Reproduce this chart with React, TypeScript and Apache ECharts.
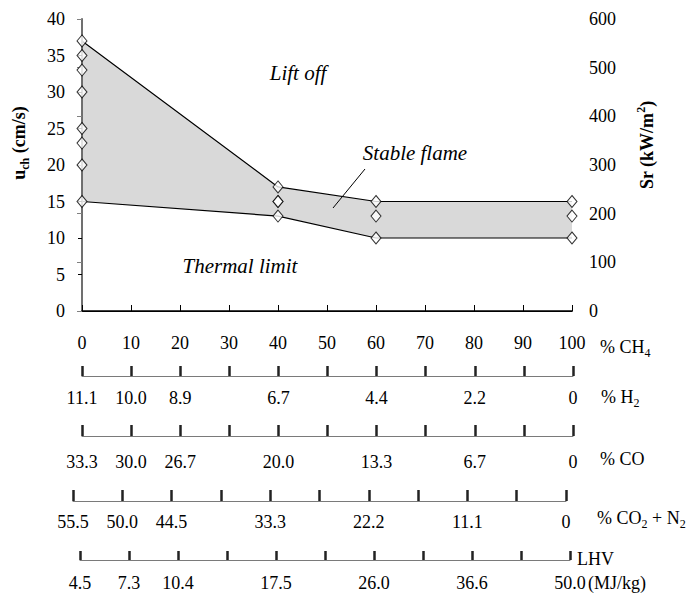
import React, { useEffect, useRef } from "react";
import * as echarts from "echarts";

const SERIF = "Liberation Serif, Times New Roman, DejaVu Serif, serif";

// CH4 percentage ticks (shared scale of all lower axes)
const ch4Ticks = [0, 10, 20, 30, 40, 50, 60, 70, 80, 90, 100];
const h2Labels = ["11.1", "10.0", "8.9", "", "6.7", "", "4.4", "", "2.2", "", "0"];
const coLabels = ["33.3", "30.0", "26.7", "", "20.0", "", "13.3", "", "6.7", "", "0"];
const co2n2Labels = ["55.5", "50.0", "44.5", "", "33.3", "", "22.2", "", "11.1", "", "0"];
const lhvLabels = ["4.5", "7.3", "10.4", "", "17.5", "", "26.0", "", "36.6", "", "50.0"];

// stability boundaries (u_ch, cm/s)
const boundX = [0, 40, 60, 100];
const upperU = [37, 17, 15, 15];
const lowerU = [15, 13, 10, 10];

// measured points
const measX = [0, 0, 0, 0, 0, 0, 0, 0, 40, 40, 40, 40, 60, 60, 60, 100, 100, 100];
const measU = [37, 35, 33, 30, 25, 23, 20, 15, 17, 15, 15, 13, 15, 13, 10, 15, 13, 10];

const labelFrom = (arr: string[]) => (v: number) => {
  const i = ch4Ticks.indexOf(Math.round(v));
  return i >= 0 ? arr[i] : "";
};

export default function App() {
  const ref = useRef<HTMLDivElement>(null);
  useEffect(() => {
    if (!ref.current) return;
    const chart = echarts.init(ref.current, null, { renderer: "svg" });
    const txt = { color: "#000", fontFamily: SERIF, fontSize: 18 };
    const rowAxis = (gridIndex: number, arr: string[], margin: number, len: number) => ({
      type: "value",
      gridIndex,
      min: 0,
      max: 100,
      interval: 10,
      position: "bottom",
      axisLine: { show: true, lineStyle: { color: "#7a7a7a", width: 1 } },
      axisTick: { show: true, inside: true, length: len, lineStyle: { color: "#222", width: 2.5 } },
      axisLabel: { ...txt, margin, formatter: labelFrom(arr) },
      splitLine: { show: false },
    });
    const hiddenY = (gridIndex: number) => ({ type: "value", gridIndex, show: false, min: 0, max: 1 });
    const rich = (bold: boolean) => {
      const fw = bold ? "bold" : "normal";
      return {
        n: { fontFamily: SERIF, fontSize: 18, fontWeight: fw, color: "#000", lineHeight: 24, verticalAlign: "middle" },
        sub: { fontFamily: SERIF, fontSize: 12, fontWeight: fw, color: "#000", lineHeight: 24, verticalAlign: "bottom" },
        sup: { fontFamily: SERIF, fontSize: 12, fontWeight: fw, color: "#000", lineHeight: 24, verticalAlign: "top" },
      };
    };
    const unitText = (x: number, y: number, text: string) => ({
      type: "text",
      x,
      y,
      z: 50,
      style: { text, rich: rich(false), align: "left", verticalAlign: "middle" },
    });
    const italic = (x: number, y: number, text: string) => ({
      type: "text",
      x,
      y,
      z: 50,
      style: { text, fontFamily: SERIF, fontSize: 21, fontStyle: "italic", fill: "#000", align: "center", verticalAlign: "middle" },
    });

    chart.setOption({
      animation: false,
      backgroundColor: "#fff",
      textStyle: { fontFamily: SERIF },
      grid: [
        { left: 82, right: 116, top: 19, height: 292 },
        { left: 82, right: 115, top: 366, height: 10 },
        { left: 82, right: 115, top: 425, height: 11 },
        { left: 73, right: 122, top: 490, height: 11 },
        { left: 80, right: 118, top: 551, height: 9 },
      ],
      xAxis: [
        {
          type: "value",
          gridIndex: 0,
          min: 0,
          max: 100,
          interval: 10,
          position: "bottom",
          z: 10,
          axisLine: { show: true, lineStyle: { color: "#000", width: 1.5 } },
          axisTick: { show: true, inside: true, length: 6, lineStyle: { color: "#000", width: 1 } },
          axisLabel: { ...txt, margin: 23 },
          splitLine: { show: false },
        },
        {
          type: "value",
          gridIndex: 0,
          min: 0,
          max: 100,
          position: "top",
          axisLine: { show: true, lineStyle: { color: "#000", width: 1 } },
          axisTick: { show: false },
          axisLabel: { show: false },
          splitLine: { show: false },
        },
        rowAxis(1, h2Labels, 13, 10),
        rowAxis(2, coLabels, 17, 11),
        rowAxis(3, co2n2Labels, 12, 11),
        rowAxis(4, lhvLabels, 14, 9),
      ],
      yAxis: [
        {
          type: "value",
          gridIndex: 0,
          min: 0,
          max: 40,
          interval: 5,
          position: "left",
          z: 10,
          axisLine: { show: true, lineStyle: { color: "#000", width: 1.5 } },
          axisTick: { show: true, inside: false, length: 4, lineStyle: { color: "#000" } },
          axisLabel: { ...txt, margin: 17 },
          splitLine: { show: false },
        },
        {
          type: "value",
          gridIndex: 0,
          min: 0,
          max: 600,
          interval: 100,
          position: "right",
          z: 10,
          axisLine: { show: true, lineStyle: { color: "#808080", width: 1.5 } },
          axisTick: { show: true, inside: true, length: 5, lineStyle: { color: "#808080" } },
          axisLabel: { ...txt, margin: 17 },
          splitLine: { show: false },
        },
        hiddenY(1),
        hiddenY(2),
        hiddenY(3),
        hiddenY(4),
      ],
      series: [
        {
          type: "line",
          xAxisIndex: 0,
          yAxisIndex: 0,
          data: boundX.map((x, i) => [x, upperU[i]]),
          symbol: "none",
          lineStyle: { color: "#000", width: 1.2 },
          areaStyle: { color: "#d9d9d9", opacity: 1 },
          z: 2,
        },
        {
          type: "line",
          xAxisIndex: 0,
          yAxisIndex: 0,
          data: boundX.map((x, i) => [x, lowerU[i]]),
          symbol: "none",
          lineStyle: { color: "#000", width: 1.2 },
          areaStyle: { color: "#ffffff", opacity: 1 },
          z: 3,
        },
        {
          type: "scatter",
          xAxisIndex: 0,
          yAxisIndex: 0,
          data: measX.map((x, i) => [x, measU[i]]),
          symbol: "diamond",
          symbolSize: [10, 12],
          itemStyle: { color: "#fff", borderColor: "#000", borderWidth: 1 },
          z: 20,
        },
      ],
      graphic: [
        italic(298, 73, "Lift off"),
        italic(415, 153, "Stable flame"),
        italic(240, 266, "Thermal limit"),
        {
          type: "line",
          z: 50,
          shape: { x1: 365, y1: 169, x2: 333, y2: 208 },
          style: { stroke: "#000", lineWidth: 1 },
        },
        {
          type: "text",
          x: 19,
          y: 143,
          z: 50,
          rotation: Math.PI / 2,
          style: { text: "{n|u}{sub|ch}{n| (cm/s)}", rich: rich(true), align: "center", verticalAlign: "middle" },
        },
        {
          type: "text",
          x: 647,
          y: 145,
          z: 50,
          rotation: Math.PI / 2,
          style: { text: "{n|Sr (kW/m}{sup|2}{n|)}", rich: rich(true), align: "center", verticalAlign: "middle" },
        },
        unitText(600, 347, "{n|% CH}{sub|4}"),
        unitText(601, 397, "{n|% H}{sub|2}"),
        unitText(600, 459, "{n|% CO}"),
        unitText(597, 518, "{n|% CO}{sub|2}{n| + N}{sub|2}"),
        unitText(577, 559, "{n|LHV}"),
        unitText(588, 583, "{n|(MJ/kg)}"),
      ],
    });
    return () => chart.dispose();
  }, []);
  return <div ref={ref} style={{ position: "fixed", left: 0, top: 0, width: 688, height: 595 }} />;
}
